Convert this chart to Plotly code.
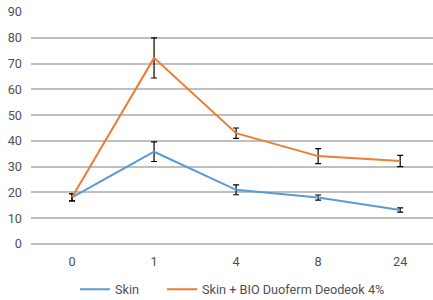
import plotly.graph_objects as go

categories = ["0", "1", "4", "8", "24"]
skin = [18.1, 35.8, 21.0, 18.0, 13.2]
skin_err = [1.4, 3.8, 1.9, 1.0, 0.8]
bio = [18.1, 72.2, 43.0, 34.1, 32.2]
bio_err = [1.4, 7.8, 2.0, 2.9, 2.2]
names = ["Skin", "Skin + BIO Duoferm Deodeok 4%"]
y_ticks = [0, 10, 20, 30, 40, 50, 60, 70, 80, 90]

xpos = list(range(len(categories)))

fig = go.Figure()
for vals, errs, name, color, lg in [(skin, skin_err, names[0], "#5B9BD5", "legend"),
                                    (bio, bio_err, names[1], "#ED7D31", "legend2")]:
    fig.add_trace(go.Scatter(
        x=xpos, y=vals, name=name, mode="lines", legend=lg,
        line=dict(color=color, width=2),
        error_y=dict(type="data", array=errs, visible=True, color="black", thickness=1.2, width=3),
    ))

leg_common = dict(orientation="h", xref="container", yref="container", xanchor="left",
                  y=0.035, yanchor="middle", font=dict(size=12.7, color="#505050"),
                  itemwidth=30, bgcolor="rgba(0,0,0,0)")

fig.update_layout(
    width=433, height=300,
    margin=dict(l=31, r=0, t=12, b=56, autoexpand=False),
    paper_bgcolor="white", plot_bgcolor="white",
    font=dict(family="Roboto", size=12.7, color="#505050"),
    showlegend=True,
    legend=dict(x=(118 - 43) / 433, **leg_common),
    legend2=dict(x=(205 - 43) / 433, **leg_common),
    xaxis=dict(tickvals=xpos, ticktext=categories, range=[-0.5, 4.4],
               showgrid=False, zeroline=False, showline=False, ticks="", ticklabelstandoff=8),
    yaxis=dict(range=[0, 90], tickvals=y_ticks, showgrid=True, gridcolor="#BFBFBF", gridwidth=1.5,
               zeroline=True, zerolinecolor="#BFBFBF", zerolinewidth=1.5,
               showline=False, ticks="", ticklabelstandoff=8),
)
fig.write_html("out.html", config={"displayModeBar": False},
               post_script="document.body.style.margin='0';")
